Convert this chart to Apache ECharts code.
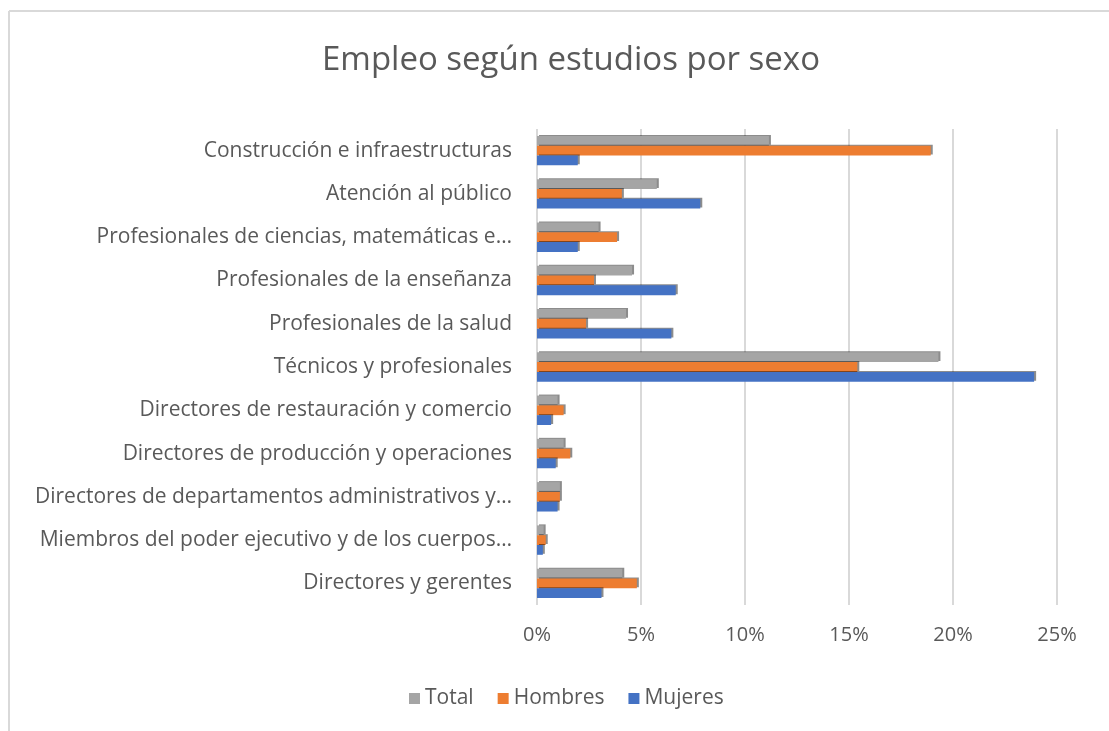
<!DOCTYPE html>
<html>
<head>
<meta charset="utf-8">
<script src="https://cdn.jsdelivr.net/npm/echarts@6/dist/echarts.min.js"></script>
<style>
  html, body { margin: 0; padding: 0; background: #fff; }
  #chart { width: 1109px; height: 731px; }
</style>
</head>
<body>
<div id="chart"></div>
<script>
// categorías de abajo hacia arriba (eje de categorías vertical)
const categorias = [
  'Directores y gerentes',
  'Miembros del poder ejecutivo y de los cuerpos…',
  'Directores de departamentos administrativos y…',
  'Directores de producción y operaciones',
  'Directores de restauración y comercio',
  'Técnicos y profesionales',
  'Profesionales de la salud',
  'Profesionales de la enseñanza',
  'Profesionales de ciencias, matemáticas e…',
  'Atención al público',
  'Construcción e infraestructuras'
];

// valores en %
const total    = [4.1, 0.32, 1.1, 1.28, 0.99, 19.3, 4.28, 4.57, 2.96, 5.76, 11.15];
const hombres  = [4.8, 0.42, 1.1, 1.6, 1.28, 15.4, 2.36, 2.74, 3.85, 4.08, 18.93];
const mujeres  = [3.1, 0.28, 0.99, 0.9, 0.68, 23.9, 6.46, 6.67, 1.96, 7.85, 1.96];

const ticksX = [0, 5, 10, 15, 20, 25];

const fuente = '"Open Sans", "Liberation Sans", sans-serif';
const gris = '#595959';

const chart = echarts.init(document.getElementById('chart'));

function serie(nombre, datos, color) {
  return {
    name: nombre,
    type: 'bar',
    data: datos,
    barGap: '0%',
    barCategoryGap: '32%',
    itemStyle: {
      color: color,
      shadowColor: 'rgba(0,0,0,0.45)',
      shadowOffsetX: 2,
      shadowOffsetY: -1,
      shadowBlur: 0
    }
  };
}

chart.setOption({
  animation: false,
  backgroundColor: '#fff',
  textStyle: { fontFamily: fuente },
  title: {
    text: 'Empleo según estudios por sexo',
    left: 566,
    textAlign: 'center',
    top: 39,
    textStyle: { fontFamily: fuente, fontSize: 33, fontWeight: 'normal', color: gris }
  },
  legend: {
    data: ['Total', 'Hombres', 'Mujeres'],
    left: 404,
    top: 683,
    icon: 'rect',
    itemWidth: 11,
    itemHeight: 11,
    itemGap: 24,
    textStyle: { fontFamily: fuente, fontSize: 21, color: gris }
  },
  graphic: [
    { type: 'line', shape: { x1: 9, y1: 11, x2: 9, y2: 731 }, style: { stroke: '#d9d9d9', lineWidth: 2 } },
    { type: 'line', shape: { x1: 9, y1: 11, x2: 1109, y2: 11 }, style: { stroke: '#d9d9d9', lineWidth: 2 } }
  ],
  grid: { left: 537, right: 52, top: 129, bottom: 126, containLabel: false },
  xAxis: {
    type: 'value',
    min: ticksX[0],
    max: ticksX[ticksX.length - 1],
    interval: 5,
    axisLine: { show: false },
    axisTick: { show: false },
    axisLabel: {
      formatter: '{value}%',
      fontFamily: fuente,
      fontSize: 20,
      color: gris,
      margin: 20
    },
    splitLine: { lineStyle: { color: '#d9d9d9', width: 2 } }
  },
  yAxis: {
    type: 'category',
    data: categorias,
    axisLine: { show: false },
    axisTick: { show: false },
    axisLabel: {
      fontFamily: fuente,
      fontSize: 21,
      color: gris,
      margin: 25
    }
  },
  series: [
    serie('Total', total, '#a5a5a5'),
    serie('Hombres', hombres, '#ed7d31'),
    serie('Mujeres', mujeres, '#4472c4')
  ]
});
</script>
</body>
</html>
